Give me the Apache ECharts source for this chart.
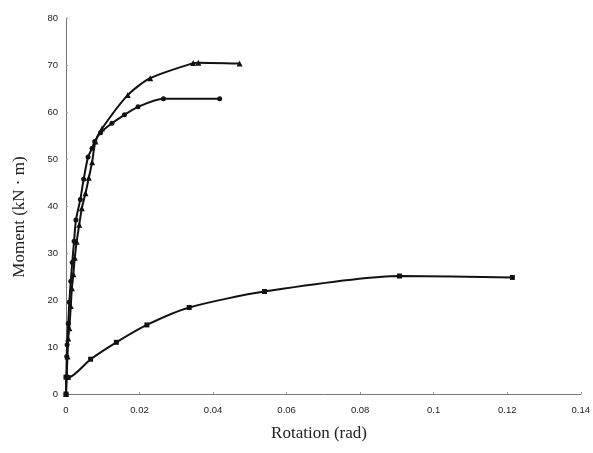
<!DOCTYPE html>
<html>
<head>
<meta charset="utf-8">
<script src="https://cdn.jsdelivr.net/npm/echarts@6/dist/echarts.min.js"></script>
<style>
    html, body { margin: 0; padding: 0; background: #fff; }
    #chart { width: 593px; height: 453px; }
</style>
</head>
<body>
<div id="chart"></div>
<script>
// 轴刻度
var xTicks = [0, 0.02, 0.04, 0.06, 0.08, 0.1, 0.12, 0.14];
var yTicks = [0, 10, 20, 30, 40, 50, 60, 70, 80];

// 三角形标记的曲线 (峰值约 70)
var triRot = [0, 0.0002, 0.0004, 0.0006, 0.0009, 0.0013, 0.0016, 0.0020, 0.0024, 0.0029, 0.0036,
    0.0043, 0.0053, 0.0062, 0.0071, 0.0080, 0.0098, 0.0168, 0.0229, 0.0346, 0.0360, 0.0472];
var triMom = [0, 4, 8, 11.8, 14, 18.7, 22.5, 25.5, 29, 32.4, 36,
    39.5, 42.7, 46, 49.3, 53.7, 56.5, 63.6, 67.2, 70.4, 70.5, 70.3];

// 圆点标记的曲线 (峰值约 62.8)
var dotRot = [0, 0.0001, 0.0002, 0.0003, 0.0006, 0.0009, 0.0013, 0.0017, 0.0022, 0.0027, 0.0039,
    0.0048, 0.0060, 0.0071, 0.0078, 0.0094, 0.0125, 0.0159, 0.0196, 0.0265, 0.0418];
var dotMom = [0, 3.5, 8, 10.5, 15, 19.5, 24, 28, 32.5, 37, 41.4,
    45.7, 50.4, 52.3, 53.7, 55.6, 57.6, 59.4, 61.1, 62.8, 62.8];

// 方块标记的曲线 (峰值约 25)
var sqRot = [0, 0, 0.0006, 0.0067, 0.0137, 0.0220, 0.0335, 0.0540, 0.0907, 0.1214];
var sqMom = [0, 3.6, 3.5, 7.4, 11, 14.7, 18.4, 21.8, 25.1, 24.8];

function pairs(xs, ys) {
    return xs.map(function (x, i) { return [x, ys[i]]; });
}

function curve(name, xs, ys, symbol, size) {
    return {
        name: name,
        type: 'line',
        data: pairs(xs, ys),
        symbol: symbol,
        symbolSize: size,
        showAllSymbol: true,
        smooth: 0.25,
        lineStyle: { color: '#111', width: 2 },
        itemStyle: { color: '#111' },
        animation: false
    };
}

var myChart = echarts.init(document.getElementById('chart'));
myChart.setOption({
    backgroundColor: '#fff',
    grid: { left: 66, right: 9, top: 18, bottom: 59 },
    xAxis: {
        type: 'value',
        min: xTicks[0],
        max: xTicks[xTicks.length - 1],
        interval: 0.02,
        axisLine: { show: true, lineStyle: { color: '#777', width: 1 } },
        axisTick: { show: true, inside: true, length: 2, lineStyle: { color: '#999' } },
        splitLine: { show: false },
        axisLabel: {
            margin: 11,
            fontFamily: 'Liberation Sans',
            fontSize: 9.5,
            color: '#222',
            formatter: function (v) { return String(+v.toFixed(2)); }
        }
    },
    yAxis: {
        type: 'value',
        min: yTicks[0],
        max: yTicks[yTicks.length - 1],
        interval: 10,
        axisLine: { show: true, lineStyle: { color: '#777', width: 1 } },
        axisTick: { show: true, inside: true, length: 2, lineStyle: { color: '#999' } },
        splitLine: { show: false },
        axisLabel: {
            margin: 8,
            fontFamily: 'Liberation Sans',
            fontSize: 9.5,
            color: '#222'
        }
    },
    graphic: [
        {
            type: 'text',
            x: 20, y: 217,
            rotation: Math.PI / 2,
            style: {
                text: 'Moment (kN · m)',
                fontFamily: 'Liberation Serif',
                fontSize: 17,
                fill: '#222',
                align: 'center',
                verticalAlign: 'middle'
            }
        },
        {
            type: 'text',
            x: 319, y: 434,
            style: {
                text: 'Rotation (rad)',
                fontFamily: 'Liberation Serif',
                fontSize: 17,
                fill: '#222',
                align: 'center',
                verticalAlign: 'middle'
            }
        }
    ],
    series: [
        curve('triangle', triRot, triMom, 'triangle', 6),
        curve('dot', dotRot, dotMom, 'circle', 5),
        curve('square', sqRot, sqMom, 'rect', 5)
    ]
});
</script>
</body>
</html>
